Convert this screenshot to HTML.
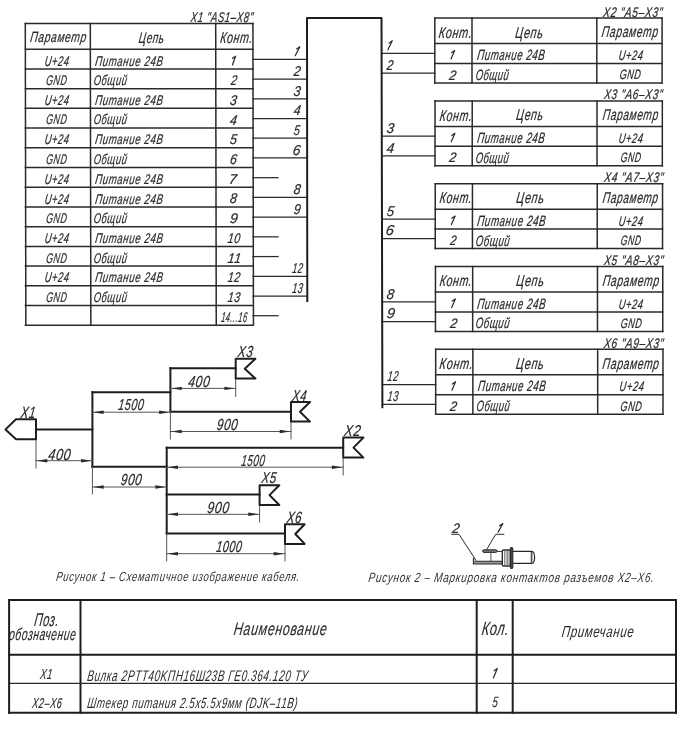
<!DOCTYPE html><html><head><meta charset="utf-8"><style>html,body{margin:0;padding:0;background:#fff;width:690px;height:734px;overflow:hidden}svg{display:block}text{font-family:"Liberation Sans",sans-serif;font-style:italic;fill:#2a2a2a;-webkit-font-smoothing:antialiased;text-rendering:geometricPrecision;stroke:#2a2a2a;stroke-width:0.22px;letter-spacing:0.9px}svg{will-change:transform}</style></head><body>
<svg width="690" height="734" viewBox="0 0 690 734">
<g stroke="#2a2a2a" stroke-linecap="square" fill="none">
<line x1="25.30" y1="23.50" x2="25.85" y2="325.28" stroke-width="1.50" stroke="#2a2a2a"/>
<line x1="90.30" y1="23.50" x2="90.85" y2="325.28" stroke-width="1.50" stroke="#2a2a2a"/>
<line x1="215.70" y1="23.50" x2="216.25" y2="325.28" stroke-width="1.50" stroke="#2a2a2a"/>
<line x1="252.90" y1="23.50" x2="253.45" y2="325.28" stroke-width="1.50" stroke="#2a2a2a"/>
<line x1="25.40" y1="23.50" x2="253.00" y2="23.50" stroke-width="1.50" stroke="#2a2a2a"/>
<line x1="25.40" y1="49.20" x2="253.00" y2="49.20" stroke-width="1.50" stroke="#2a2a2a"/>
<line x1="25.40" y1="68.92" x2="253.00" y2="68.92" stroke-width="1.50" stroke="#2a2a2a"/>
<line x1="25.40" y1="88.64" x2="253.00" y2="88.64" stroke-width="1.50" stroke="#2a2a2a"/>
<line x1="25.40" y1="108.36" x2="253.00" y2="108.36" stroke-width="1.50" stroke="#2a2a2a"/>
<line x1="25.40" y1="128.08" x2="253.00" y2="128.08" stroke-width="1.50" stroke="#2a2a2a"/>
<line x1="25.40" y1="147.80" x2="253.00" y2="147.80" stroke-width="1.50" stroke="#2a2a2a"/>
<line x1="25.40" y1="167.52" x2="253.00" y2="167.52" stroke-width="1.50" stroke="#2a2a2a"/>
<line x1="25.40" y1="187.24" x2="253.00" y2="187.24" stroke-width="1.50" stroke="#2a2a2a"/>
<line x1="25.40" y1="206.96" x2="253.00" y2="206.96" stroke-width="1.50" stroke="#2a2a2a"/>
<line x1="25.40" y1="226.68" x2="253.00" y2="226.68" stroke-width="1.50" stroke="#2a2a2a"/>
<line x1="25.40" y1="246.40" x2="253.00" y2="246.40" stroke-width="1.50" stroke="#2a2a2a"/>
<line x1="25.40" y1="266.12" x2="253.00" y2="266.12" stroke-width="1.50" stroke="#2a2a2a"/>
<line x1="25.40" y1="285.84" x2="253.00" y2="285.84" stroke-width="1.50" stroke="#2a2a2a"/>
<line x1="25.40" y1="305.56" x2="253.00" y2="305.56" stroke-width="1.50" stroke="#2a2a2a"/>
<line x1="25.40" y1="325.28" x2="253.00" y2="325.28" stroke-width="1.50" stroke="#2a2a2a"/>
<line x1="253.00" y1="59.36" x2="307.00" y2="59.36" stroke-width="1.25" stroke="#2a2a2a"/>
<line x1="253.00" y1="79.08" x2="307.00" y2="79.08" stroke-width="1.25" stroke="#2a2a2a"/>
<line x1="253.00" y1="98.80" x2="307.00" y2="98.80" stroke-width="1.25" stroke="#2a2a2a"/>
<line x1="253.00" y1="118.52" x2="307.00" y2="118.52" stroke-width="1.25" stroke="#2a2a2a"/>
<line x1="253.00" y1="138.24" x2="307.00" y2="138.24" stroke-width="1.25" stroke="#2a2a2a"/>
<line x1="253.00" y1="157.96" x2="307.00" y2="157.96" stroke-width="1.25" stroke="#2a2a2a"/>
<line x1="253.00" y1="177.68" x2="278.00" y2="177.68" stroke-width="1.25" stroke="#2a2a2a"/>
<line x1="253.00" y1="197.40" x2="307.00" y2="197.40" stroke-width="1.25" stroke="#2a2a2a"/>
<line x1="253.00" y1="217.12" x2="307.00" y2="217.12" stroke-width="1.25" stroke="#2a2a2a"/>
<line x1="253.00" y1="236.84" x2="278.00" y2="236.84" stroke-width="1.25" stroke="#2a2a2a"/>
<line x1="253.00" y1="256.56" x2="278.00" y2="256.56" stroke-width="1.25" stroke="#2a2a2a"/>
<line x1="253.00" y1="276.28" x2="307.00" y2="276.28" stroke-width="1.25" stroke="#2a2a2a"/>
<line x1="253.00" y1="296.00" x2="307.00" y2="296.00" stroke-width="1.25" stroke="#2a2a2a"/>
<line x1="253.00" y1="315.72" x2="278.00" y2="315.72" stroke-width="1.25" stroke="#2a2a2a"/>
<line x1="434.80" y1="18.10" x2="434.80" y2="83.00" stroke-width="1.50" stroke="#2a2a2a"/>
<line x1="472.00" y1="18.10" x2="472.00" y2="83.00" stroke-width="1.50" stroke="#2a2a2a"/>
<line x1="596.80" y1="18.10" x2="596.80" y2="83.00" stroke-width="1.50" stroke="#2a2a2a"/>
<line x1="662.10" y1="18.10" x2="662.10" y2="83.00" stroke-width="1.50" stroke="#2a2a2a"/>
<line x1="434.80" y1="18.10" x2="662.10" y2="18.10" stroke-width="1.50" stroke="#2a2a2a"/>
<line x1="434.80" y1="43.60" x2="662.10" y2="43.60" stroke-width="1.50" stroke="#2a2a2a"/>
<line x1="434.80" y1="63.50" x2="662.10" y2="63.50" stroke-width="1.50" stroke="#2a2a2a"/>
<line x1="434.80" y1="83.00" x2="662.10" y2="83.00" stroke-width="1.50" stroke="#2a2a2a"/>
<line x1="381.58" y1="53.40" x2="434.80" y2="53.40" stroke-width="1.25" stroke="#2a2a2a"/>
<line x1="381.58" y1="73.10" x2="434.80" y2="73.10" stroke-width="1.25" stroke="#2a2a2a"/>
<line x1="435.02" y1="100.90" x2="435.02" y2="165.80" stroke-width="1.50" stroke="#2a2a2a"/>
<line x1="472.22" y1="100.90" x2="472.22" y2="165.80" stroke-width="1.50" stroke="#2a2a2a"/>
<line x1="597.02" y1="100.90" x2="597.02" y2="165.80" stroke-width="1.50" stroke="#2a2a2a"/>
<line x1="662.32" y1="100.90" x2="662.32" y2="165.80" stroke-width="1.50" stroke="#2a2a2a"/>
<line x1="435.02" y1="100.90" x2="662.32" y2="100.90" stroke-width="1.50" stroke="#2a2a2a"/>
<line x1="435.02" y1="126.40" x2="662.32" y2="126.40" stroke-width="1.50" stroke="#2a2a2a"/>
<line x1="435.02" y1="146.30" x2="662.32" y2="146.30" stroke-width="1.50" stroke="#2a2a2a"/>
<line x1="435.02" y1="165.80" x2="662.32" y2="165.80" stroke-width="1.50" stroke="#2a2a2a"/>
<line x1="381.77" y1="136.20" x2="435.02" y2="136.20" stroke-width="1.25" stroke="#2a2a2a"/>
<line x1="381.77" y1="155.90" x2="435.02" y2="155.90" stroke-width="1.25" stroke="#2a2a2a"/>
<line x1="435.24" y1="183.70" x2="435.24" y2="248.60" stroke-width="1.50" stroke="#2a2a2a"/>
<line x1="472.44" y1="183.70" x2="472.44" y2="248.60" stroke-width="1.50" stroke="#2a2a2a"/>
<line x1="597.24" y1="183.70" x2="597.24" y2="248.60" stroke-width="1.50" stroke="#2a2a2a"/>
<line x1="662.54" y1="183.70" x2="662.54" y2="248.60" stroke-width="1.50" stroke="#2a2a2a"/>
<line x1="435.24" y1="183.70" x2="662.54" y2="183.70" stroke-width="1.50" stroke="#2a2a2a"/>
<line x1="435.24" y1="209.20" x2="662.54" y2="209.20" stroke-width="1.50" stroke="#2a2a2a"/>
<line x1="435.24" y1="229.10" x2="662.54" y2="229.10" stroke-width="1.50" stroke="#2a2a2a"/>
<line x1="435.24" y1="248.60" x2="662.54" y2="248.60" stroke-width="1.50" stroke="#2a2a2a"/>
<line x1="381.96" y1="219.00" x2="435.24" y2="219.00" stroke-width="1.25" stroke="#2a2a2a"/>
<line x1="381.96" y1="238.70" x2="435.24" y2="238.70" stroke-width="1.25" stroke="#2a2a2a"/>
<line x1="435.46" y1="266.50" x2="435.46" y2="331.40" stroke-width="1.50" stroke="#2a2a2a"/>
<line x1="472.66" y1="266.50" x2="472.66" y2="331.40" stroke-width="1.50" stroke="#2a2a2a"/>
<line x1="597.46" y1="266.50" x2="597.46" y2="331.40" stroke-width="1.50" stroke="#2a2a2a"/>
<line x1="662.76" y1="266.50" x2="662.76" y2="331.40" stroke-width="1.50" stroke="#2a2a2a"/>
<line x1="435.46" y1="266.50" x2="662.76" y2="266.50" stroke-width="1.50" stroke="#2a2a2a"/>
<line x1="435.46" y1="292.00" x2="662.76" y2="292.00" stroke-width="1.50" stroke="#2a2a2a"/>
<line x1="435.46" y1="311.90" x2="662.76" y2="311.90" stroke-width="1.50" stroke="#2a2a2a"/>
<line x1="435.46" y1="331.40" x2="662.76" y2="331.40" stroke-width="1.50" stroke="#2a2a2a"/>
<line x1="382.15" y1="301.80" x2="435.46" y2="301.80" stroke-width="1.25" stroke="#2a2a2a"/>
<line x1="382.15" y1="321.50" x2="435.46" y2="321.50" stroke-width="1.25" stroke="#2a2a2a"/>
<line x1="435.68" y1="349.30" x2="435.68" y2="414.20" stroke-width="1.50" stroke="#2a2a2a"/>
<line x1="472.88" y1="349.30" x2="472.88" y2="414.20" stroke-width="1.50" stroke="#2a2a2a"/>
<line x1="597.68" y1="349.30" x2="597.68" y2="414.20" stroke-width="1.50" stroke="#2a2a2a"/>
<line x1="662.98" y1="349.30" x2="662.98" y2="414.20" stroke-width="1.50" stroke="#2a2a2a"/>
<line x1="435.68" y1="349.30" x2="662.98" y2="349.30" stroke-width="1.50" stroke="#2a2a2a"/>
<line x1="435.68" y1="374.80" x2="662.98" y2="374.80" stroke-width="1.50" stroke="#2a2a2a"/>
<line x1="435.68" y1="394.70" x2="662.98" y2="394.70" stroke-width="1.50" stroke="#2a2a2a"/>
<line x1="435.68" y1="414.20" x2="662.98" y2="414.20" stroke-width="1.50" stroke="#2a2a2a"/>
<line x1="382.35" y1="384.60" x2="435.68" y2="384.60" stroke-width="1.25" stroke="#2a2a2a"/>
<line x1="382.35" y1="404.30" x2="435.68" y2="404.30" stroke-width="1.25" stroke="#2a2a2a"/>
<line x1="36.00" y1="429.40" x2="92.40" y2="429.40" stroke-width="2.00" stroke="#1e1e1e"/>
<line x1="92.40" y1="392.20" x2="92.40" y2="466.80" stroke-width="2.00" stroke="#1e1e1e"/>
<line x1="92.40" y1="392.20" x2="170.40" y2="392.20" stroke-width="2.00" stroke="#1e1e1e"/>
<line x1="170.40" y1="368.20" x2="170.40" y2="411.80" stroke-width="2.00" stroke="#1e1e1e"/>
<line x1="170.40" y1="368.20" x2="235.70" y2="368.20" stroke-width="2.00" stroke="#1e1e1e"/>
<line x1="170.40" y1="411.80" x2="291.00" y2="411.80" stroke-width="2.00" stroke="#1e1e1e"/>
<line x1="92.40" y1="466.80" x2="166.70" y2="466.80" stroke-width="2.00" stroke="#1e1e1e"/>
<line x1="166.70" y1="447.70" x2="166.70" y2="533.50" stroke-width="2.00" stroke="#1e1e1e"/>
<line x1="166.70" y1="447.70" x2="343.20" y2="447.70" stroke-width="2.00" stroke="#1e1e1e"/>
<line x1="166.70" y1="494.60" x2="259.60" y2="494.60" stroke-width="2.00" stroke="#1e1e1e"/>
<line x1="166.70" y1="533.50" x2="285.00" y2="533.50" stroke-width="2.00" stroke="#1e1e1e"/>
<line x1="36.00" y1="439.30" x2="36.00" y2="468.00" stroke-width="1.00" stroke="#555"/>
<line x1="36.00" y1="460.70" x2="92.40" y2="460.70" stroke-width="1.00" stroke="#555"/>
<line x1="92.40" y1="412.20" x2="170.40" y2="412.20" stroke-width="1.00" stroke="#555"/>
<line x1="92.40" y1="466.80" x2="92.40" y2="494.00" stroke-width="1.00" stroke="#555"/>
<line x1="92.40" y1="487.00" x2="166.70" y2="487.00" stroke-width="1.00" stroke="#555"/>
<line x1="235.70" y1="378.50" x2="235.70" y2="396.50" stroke-width="1.00" stroke="#555"/>
<line x1="170.40" y1="388.40" x2="235.70" y2="388.40" stroke-width="1.00" stroke="#555"/>
<line x1="170.40" y1="411.80" x2="170.40" y2="439.00" stroke-width="1.00" stroke="#555"/>
<line x1="291.00" y1="421.60" x2="291.00" y2="439.00" stroke-width="1.00" stroke="#555"/>
<line x1="170.40" y1="431.50" x2="291.00" y2="431.50" stroke-width="1.00" stroke="#555"/>
<line x1="343.20" y1="457.60" x2="343.20" y2="475.00" stroke-width="1.00" stroke="#555"/>
<line x1="166.70" y1="467.20" x2="343.20" y2="467.20" stroke-width="1.00" stroke="#555"/>
<line x1="259.60" y1="505.00" x2="259.60" y2="522.00" stroke-width="1.00" stroke="#555"/>
<line x1="166.70" y1="514.30" x2="259.60" y2="514.30" stroke-width="1.00" stroke="#555"/>
<line x1="166.70" y1="533.50" x2="166.70" y2="561.00" stroke-width="1.00" stroke="#555"/>
<line x1="285.00" y1="543.90" x2="285.00" y2="561.00" stroke-width="1.00" stroke="#555"/>
<line x1="166.70" y1="553.70" x2="285.00" y2="553.70" stroke-width="1.00" stroke="#555"/>
<line x1="9.10" y1="600.00" x2="9.10" y2="712.80" stroke-width="2.00" stroke="#1e1e1e"/>
<line x1="80.50" y1="600.00" x2="80.50" y2="712.80" stroke-width="2.00" stroke="#1e1e1e"/>
<line x1="476.70" y1="600.00" x2="476.70" y2="712.80" stroke-width="2.00" stroke="#1e1e1e"/>
<line x1="512.70" y1="600.00" x2="512.70" y2="712.80" stroke-width="2.00" stroke="#1e1e1e"/>
<line x1="676.00" y1="600.00" x2="676.00" y2="712.80" stroke-width="2.00" stroke="#1e1e1e"/>
<line x1="9.10" y1="600.00" x2="676.00" y2="600.00" stroke-width="2.00" stroke="#1e1e1e"/>
<line x1="9.10" y1="654.80" x2="676.00" y2="654.80" stroke-width="2.00" stroke="#1e1e1e"/>
<line x1="9.10" y1="683.40" x2="676.00" y2="683.40" stroke-width="1.30" stroke="#2a2a2a"/>
<line x1="9.10" y1="712.80" x2="676.00" y2="712.80" stroke-width="2.00" stroke="#1e1e1e"/>
<polyline points="307.30,302.00 307.00,17.90 381.50,17.90 382.40,408.30" stroke-width="2.00" stroke="#1e1e1e" stroke-linejoin="round" stroke-linecap="butt"/>
<polygon points="36.00,419.30 16.00,419.30 5.50,429.40 16.00,439.30 36.00,439.30" stroke-width="2.00" stroke="#1e1e1e" stroke-linejoin="round" stroke-linecap="butt"/>
<polygon points="235.70,358.80 255.40,358.80 244.80,368.65 255.40,378.50 235.70,378.50" stroke-width="2.00" stroke="#1e1e1e" stroke-linejoin="round" stroke-linecap="butt"/>
<polygon points="291.00,402.00 310.00,402.00 300.00,411.80 310.00,421.60 291.00,421.60" stroke-width="2.00" stroke="#1e1e1e" stroke-linejoin="round" stroke-linecap="butt"/>
<polygon points="343.20,437.60 363.40,437.60 353.50,447.60 363.40,457.60 343.20,457.60" stroke-width="2.00" stroke="#1e1e1e" stroke-linejoin="round" stroke-linecap="butt"/>
<polygon points="259.60,485.30 279.30,485.30 269.50,495.15 279.30,505.00 259.60,505.00" stroke-width="2.00" stroke="#1e1e1e" stroke-linejoin="round" stroke-linecap="butt"/>
<polygon points="285.00,524.20 304.70,524.20 295.30,534.05 304.70,543.90 285.00,543.90" stroke-width="2.00" stroke="#1e1e1e" stroke-linejoin="round" stroke-linecap="butt"/>
</g>
<g fill="#2a2a2a" stroke="none">
<path d="M36.80 460.70l10.5 -1.7v3.4z"/>
<path d="M91.60 460.70l-10.5 -1.7v3.4z"/>
<path d="M93.20 412.20l10.5 -1.7v3.4z"/>
<path d="M169.60 412.20l-10.5 -1.7v3.4z"/>
<path d="M93.20 487.00l10.5 -1.7v3.4z"/>
<path d="M165.90 487.00l-10.5 -1.7v3.4z"/>
<path d="M171.20 388.40l10.5 -1.7v3.4z"/>
<path d="M234.90 388.40l-10.5 -1.7v3.4z"/>
<path d="M171.20 431.50l10.5 -1.7v3.4z"/>
<path d="M290.20 431.50l-10.5 -1.7v3.4z"/>
<path d="M167.50 467.20l10.5 -1.7v3.4z"/>
<path d="M342.40 467.20l-10.5 -1.7v3.4z"/>
<path d="M167.50 514.30l10.5 -1.7v3.4z"/>
<path d="M258.80 514.30l-10.5 -1.7v3.4z"/>
<path d="M167.50 553.70l10.5 -1.7v3.4z"/>
<path d="M284.20 553.70l-10.5 -1.7v3.4z"/>
</g>
<g stroke="#2a2a2a" fill="none" stroke-width="1">
<path d="M451.3 534.3H459L475.3 559.3"/>
<path d="M504.3 534.3H495.7L486.2 550.3"/>
<rect x="482.6" y="549.8" width="14.5" height="2.6" rx="1.3" fill="#777" stroke-width="1"/>
<path d="M497.1 551.4H502.3"/>
<path d="M490.9 552.4V561.2" stroke="#555"/>
<path d="M473.4 558V564H502.3V561.2H474.8" fill="#999" stroke-width="1.1"/>
<path d="M474.2 558.3L476.2 560.6" stroke-width="0.9"/>
<rect x="502.3" y="550" width="8.2" height="16" rx="1.3" stroke-width="1.3"/>
<path d="M504.6 551V565M506.1 551V565M507.6 551V565M509.0 551V565" stroke="#666" stroke-width="0.8"/>
<rect x="510.3" y="547.6" width="2.5" height="20.9" rx="1.2" fill="#444" stroke-width="1.1"/>
<path d="M512.8 551.4H531.6Q534.6 551.4 534.6 557.4Q534.6 563.4 531.6 563.4H512.8" stroke-width="1.2"/>
<path d="M531.6 552V562.8" stroke-width="1.8" stroke="#555"/>
</g>

<text transform="translate(190.20 21.80) skewX(-7.5)" font-size="14.10" textLength="62.96" lengthAdjust="spacingAndGlyphs">X1 &quot;AS1–X8&quot;</text>
<text transform="translate(29.70 41.80) skewX(-7.5)" font-size="14.83" textLength="56.61" lengthAdjust="spacingAndGlyphs">Параметр</text>
<text transform="translate(138.20 42.50) skewX(-7.5)" font-size="15.26" textLength="25.97" lengthAdjust="spacingAndGlyphs">Цепь</text>
<text transform="translate(219.70 43.00) skewX(-7.5)" font-size="15.99" textLength="32.74" lengthAdjust="spacingAndGlyphs">Конт.</text>
<text transform="translate(44.20 65.50) skewX(-7.5)" font-size="14.10" textLength="24.78" lengthAdjust="spacingAndGlyphs">U+24</text>
<text transform="translate(94.70 65.50) skewX(-7.5)" font-size="14.10" textLength="68.32" lengthAdjust="spacingAndGlyphs">Питание 24В</text>
<text transform="translate(45.70 85.02) skewX(-7.5)" font-size="14.10" textLength="21.12" lengthAdjust="spacingAndGlyphs">GND</text>
<text transform="translate(93.20 85.02) skewX(-7.5)" font-size="14.10" textLength="33.72" lengthAdjust="spacingAndGlyphs">Общий</text>
<text transform="translate(44.20 104.94) skewX(-7.5)" font-size="14.10" textLength="24.78" lengthAdjust="spacingAndGlyphs">U+24</text>
<text transform="translate(94.70 104.94) skewX(-7.5)" font-size="14.10" textLength="68.32" lengthAdjust="spacingAndGlyphs">Питание 24В</text>
<text transform="translate(45.70 124.46) skewX(-7.5)" font-size="14.10" textLength="21.12" lengthAdjust="spacingAndGlyphs">GND</text>
<text transform="translate(93.20 124.46) skewX(-7.5)" font-size="14.10" textLength="33.72" lengthAdjust="spacingAndGlyphs">Общий</text>
<text transform="translate(44.20 144.38) skewX(-7.5)" font-size="14.10" textLength="24.78" lengthAdjust="spacingAndGlyphs">U+24</text>
<text transform="translate(94.70 144.38) skewX(-7.5)" font-size="14.10" textLength="68.32" lengthAdjust="spacingAndGlyphs">Питание 24В</text>
<text transform="translate(45.70 163.90) skewX(-7.5)" font-size="14.10" textLength="21.12" lengthAdjust="spacingAndGlyphs">GND</text>
<text transform="translate(93.20 163.90) skewX(-7.5)" font-size="14.10" textLength="33.72" lengthAdjust="spacingAndGlyphs">Общий</text>
<text transform="translate(44.20 183.82) skewX(-7.5)" font-size="14.10" textLength="24.78" lengthAdjust="spacingAndGlyphs">U+24</text>
<text transform="translate(94.70 183.82) skewX(-7.5)" font-size="14.10" textLength="68.32" lengthAdjust="spacingAndGlyphs">Питание 24В</text>
<text transform="translate(44.20 203.54) skewX(-7.5)" font-size="14.10" textLength="24.78" lengthAdjust="spacingAndGlyphs">U+24</text>
<text transform="translate(94.70 203.54) skewX(-7.5)" font-size="14.10" textLength="68.32" lengthAdjust="spacingAndGlyphs">Питание 24В</text>
<text transform="translate(45.70 223.06) skewX(-7.5)" font-size="14.10" textLength="21.12" lengthAdjust="spacingAndGlyphs">GND</text>
<text transform="translate(93.20 223.06) skewX(-7.5)" font-size="14.10" textLength="33.72" lengthAdjust="spacingAndGlyphs">Общий</text>
<text transform="translate(44.20 242.98) skewX(-7.5)" font-size="14.10" textLength="24.78" lengthAdjust="spacingAndGlyphs">U+24</text>
<text transform="translate(94.70 242.98) skewX(-7.5)" font-size="14.10" textLength="68.32" lengthAdjust="spacingAndGlyphs">Питание 24В</text>
<text transform="translate(45.70 262.50) skewX(-7.5)" font-size="14.10" textLength="21.12" lengthAdjust="spacingAndGlyphs">GND</text>
<text transform="translate(93.20 262.50) skewX(-7.5)" font-size="14.10" textLength="33.72" lengthAdjust="spacingAndGlyphs">Общий</text>
<text transform="translate(44.20 282.42) skewX(-7.5)" font-size="14.10" textLength="24.78" lengthAdjust="spacingAndGlyphs">U+24</text>
<text transform="translate(94.70 282.42) skewX(-7.5)" font-size="14.10" textLength="68.32" lengthAdjust="spacingAndGlyphs">Питание 24В</text>
<text transform="translate(45.70 301.94) skewX(-7.5)" font-size="14.10" textLength="21.12" lengthAdjust="spacingAndGlyphs">GND</text>
<text transform="translate(93.20 301.94) skewX(-7.5)" font-size="14.10" textLength="33.72" lengthAdjust="spacingAndGlyphs">Общий</text>
<path d="M232.45 65.00L235.55 56.20L232.35 58.40" fill="none" stroke="#2a2a2a" stroke-width="1.2" stroke-linecap="round" stroke-linejoin="round"/>
<text transform="translate(230.45 85.12) skewX(-7.5)" font-size="14.10" textLength="6.84" lengthAdjust="spacingAndGlyphs">2</text>
<text transform="translate(229.45 104.84) skewX(-7.5)" font-size="14.10" textLength="7.74" lengthAdjust="spacingAndGlyphs">3</text>
<text transform="translate(229.45 124.56) skewX(-7.5)" font-size="14.10" textLength="7.74" lengthAdjust="spacingAndGlyphs">4</text>
<text transform="translate(229.45 144.28) skewX(-7.5)" font-size="14.10" textLength="7.74" lengthAdjust="spacingAndGlyphs">5</text>
<text transform="translate(229.45 164.00) skewX(-7.5)" font-size="14.10" textLength="7.74" lengthAdjust="spacingAndGlyphs">6</text>
<text transform="translate(228.45 183.72) skewX(-7.5)" font-size="14.10" textLength="8.64" lengthAdjust="spacingAndGlyphs">7</text>
<text transform="translate(229.45 203.44) skewX(-7.5)" font-size="14.10" textLength="7.74" lengthAdjust="spacingAndGlyphs">8</text>
<text transform="translate(229.45 223.16) skewX(-7.5)" font-size="14.10" textLength="8.64" lengthAdjust="spacingAndGlyphs">9</text>
<text transform="translate(227.20 242.88) skewX(-7.5)" font-size="14.10" textLength="13.24" lengthAdjust="spacingAndGlyphs">10</text>
<text transform="translate(227.20 262.60) skewX(-7.5)" font-size="14.10" textLength="14.14" lengthAdjust="spacingAndGlyphs">11</text>
<text transform="translate(227.20 282.32) skewX(-7.5)" font-size="14.10" textLength="13.24" lengthAdjust="spacingAndGlyphs">12</text>
<text transform="translate(227.20 302.04) skewX(-7.5)" font-size="14.10" textLength="13.24" lengthAdjust="spacingAndGlyphs">13</text>
<text transform="translate(220.70 321.76) skewX(-7.5)" font-size="14.10" textLength="26.34" lengthAdjust="spacingAndGlyphs">14...16</text>
<path d="M295.20 55.66L299.80 46.76L296.60 48.96" fill="none" stroke="#2a2a2a" stroke-width="1.2" stroke-linecap="round" stroke-linejoin="round"/>
<text transform="translate(293.20 75.78) skewX(-7.5)" font-size="14.24" textLength="7.72" lengthAdjust="spacingAndGlyphs">2</text>
<text transform="translate(293.20 95.50) skewX(-7.5)" font-size="14.24" textLength="7.72" lengthAdjust="spacingAndGlyphs">3</text>
<text transform="translate(293.20 115.22) skewX(-7.5)" font-size="14.24" textLength="7.72" lengthAdjust="spacingAndGlyphs">4</text>
<text transform="translate(293.20 134.94) skewX(-7.5)" font-size="14.24" textLength="6.82" lengthAdjust="spacingAndGlyphs">5</text>
<text transform="translate(292.20 154.66) skewX(-7.5)" font-size="14.24" textLength="8.62" lengthAdjust="spacingAndGlyphs">6</text>
<text transform="translate(293.20 194.10) skewX(-7.5)" font-size="14.24" textLength="7.72" lengthAdjust="spacingAndGlyphs">8</text>
<text transform="translate(293.20 213.82) skewX(-7.5)" font-size="14.24" textLength="7.72" lengthAdjust="spacingAndGlyphs">9</text>
<text transform="translate(291.70 272.98) skewX(-7.5)" font-size="14.24" textLength="11.22" lengthAdjust="spacingAndGlyphs">12</text>
<text transform="translate(291.70 292.70) skewX(-7.5)" font-size="14.24" textLength="11.22" lengthAdjust="spacingAndGlyphs">13</text>
<text transform="translate(602.70 16.50) skewX(-7.5)" font-size="13.95" textLength="59.92" lengthAdjust="spacingAndGlyphs">X2 &quot;A5–X3&quot;</text>
<text transform="translate(438.20 37.70) skewX(-7.5)" font-size="15.70" textLength="33.68" lengthAdjust="spacingAndGlyphs">Конт.</text>
<text transform="translate(514.70 37.50) skewX(-7.5)" font-size="15.70" textLength="28.34" lengthAdjust="spacingAndGlyphs">Цепь</text>
<text transform="translate(601.20 37.40) skewX(-7.5)" font-size="15.70" textLength="56.90" lengthAdjust="spacingAndGlyphs">Параметр</text>
<path d="M451.00 59.00L454.70 50.50L451.50 52.70" fill="none" stroke="#2a2a2a" stroke-width="1.2" stroke-linecap="round" stroke-linejoin="round"/>
<text transform="translate(476.70 60.10) skewX(-7.5)" font-size="14.97" textLength="68.19" lengthAdjust="spacingAndGlyphs">Питание 24В</text>
<text transform="translate(618.20 60.10) skewX(-7.5)" font-size="13.66" textLength="24.76" lengthAdjust="spacingAndGlyphs">U+24</text>
<text transform="translate(448.70 79.60) skewX(-7.5)" font-size="13.66" textLength="7.82" lengthAdjust="spacingAndGlyphs">2</text>
<text transform="translate(475.20 79.90) skewX(-7.5)" font-size="14.97" textLength="33.65" lengthAdjust="spacingAndGlyphs">Общий</text>
<text transform="translate(619.20 79.40) skewX(-7.5)" font-size="13.66" textLength="21.68" lengthAdjust="spacingAndGlyphs">GND</text>
<path d="M387.90 49.70L392.30 40.80L389.10 43.00" fill="none" stroke="#2a2a2a" stroke-width="1.2" stroke-linecap="round" stroke-linejoin="round"/>
<text transform="translate(386.20 69.80) skewX(-7.5)" font-size="14.24" textLength="7.32" lengthAdjust="spacingAndGlyphs">2</text>
<text transform="translate(603.68 99.30) skewX(-7.5)" font-size="13.95" textLength="59.02" lengthAdjust="spacingAndGlyphs">X3 &quot;A6–X3&quot;</text>
<text transform="translate(439.18 120.50) skewX(-7.5)" font-size="15.70" textLength="32.78" lengthAdjust="spacingAndGlyphs">Конт.</text>
<text transform="translate(515.68 120.30) skewX(-7.5)" font-size="15.70" textLength="27.44" lengthAdjust="spacingAndGlyphs">Цепь</text>
<text transform="translate(602.18 120.20) skewX(-7.5)" font-size="15.70" textLength="56.00" lengthAdjust="spacingAndGlyphs">Параметр</text>
<path d="M451.22 141.80L454.92 133.30L451.72 135.50" fill="none" stroke="#2a2a2a" stroke-width="1.2" stroke-linecap="round" stroke-linejoin="round"/>
<text transform="translate(476.68 142.90) skewX(-7.5)" font-size="14.97" textLength="68.19" lengthAdjust="spacingAndGlyphs">Питание 24В</text>
<text transform="translate(618.18 142.90) skewX(-7.5)" font-size="13.66" textLength="24.76" lengthAdjust="spacingAndGlyphs">U+24</text>
<text transform="translate(448.68 162.40) skewX(-7.5)" font-size="13.66" textLength="7.82" lengthAdjust="spacingAndGlyphs">2</text>
<text transform="translate(475.18 162.70) skewX(-7.5)" font-size="14.97" textLength="33.65" lengthAdjust="spacingAndGlyphs">Общий</text>
<text transform="translate(620.18 162.20) skewX(-7.5)" font-size="13.66" textLength="20.78" lengthAdjust="spacingAndGlyphs">GND</text>
<text transform="translate(386.18 132.90) skewX(-7.5)" font-size="14.24" textLength="8.22" lengthAdjust="spacingAndGlyphs">3</text>
<text transform="translate(386.18 152.60) skewX(-7.5)" font-size="14.24" textLength="8.22" lengthAdjust="spacingAndGlyphs">4</text>
<text transform="translate(603.66 182.10) skewX(-7.5)" font-size="13.95" textLength="59.92" lengthAdjust="spacingAndGlyphs">X4 &quot;A7–X3&quot;</text>
<text transform="translate(439.16 203.30) skewX(-7.5)" font-size="15.70" textLength="32.78" lengthAdjust="spacingAndGlyphs">Конт.</text>
<text transform="translate(515.66 203.10) skewX(-7.5)" font-size="15.70" textLength="28.34" lengthAdjust="spacingAndGlyphs">Цепь</text>
<text transform="translate(602.16 203.00) skewX(-7.5)" font-size="15.70" textLength="56.00" lengthAdjust="spacingAndGlyphs">Параметр</text>
<path d="M451.44 224.60L455.14 216.10L451.94 218.30" fill="none" stroke="#2a2a2a" stroke-width="1.2" stroke-linecap="round" stroke-linejoin="round"/>
<text transform="translate(476.66 225.70) skewX(-7.5)" font-size="14.97" textLength="69.09" lengthAdjust="spacingAndGlyphs">Питание 24В</text>
<text transform="translate(618.16 225.70) skewX(-7.5)" font-size="13.66" textLength="24.76" lengthAdjust="spacingAndGlyphs">U+24</text>
<text transform="translate(449.66 245.20) skewX(-7.5)" font-size="13.66" textLength="6.92" lengthAdjust="spacingAndGlyphs">2</text>
<text transform="translate(475.16 245.50) skewX(-7.5)" font-size="14.97" textLength="34.55" lengthAdjust="spacingAndGlyphs">Общий</text>
<text transform="translate(620.16 245.00) skewX(-7.5)" font-size="13.66" textLength="20.78" lengthAdjust="spacingAndGlyphs">GND</text>
<text transform="translate(386.16 215.70) skewX(-7.5)" font-size="14.24" textLength="8.22" lengthAdjust="spacingAndGlyphs">5</text>
<text transform="translate(385.16 235.40) skewX(-7.5)" font-size="14.24" textLength="9.12" lengthAdjust="spacingAndGlyphs">6</text>
<text transform="translate(603.64 264.90) skewX(-7.5)" font-size="13.95" textLength="59.92" lengthAdjust="spacingAndGlyphs">X5 &quot;A8–X3&quot;</text>
<text transform="translate(439.14 286.10) skewX(-7.5)" font-size="15.70" textLength="32.78" lengthAdjust="spacingAndGlyphs">Конт.</text>
<text transform="translate(515.64 285.90) skewX(-7.5)" font-size="15.70" textLength="28.34" lengthAdjust="spacingAndGlyphs">Цепь</text>
<text transform="translate(602.14 285.80) skewX(-7.5)" font-size="15.70" textLength="56.90" lengthAdjust="spacingAndGlyphs">Параметр</text>
<path d="M451.66 307.40L455.36 298.90L452.16 301.10" fill="none" stroke="#2a2a2a" stroke-width="1.2" stroke-linecap="round" stroke-linejoin="round"/>
<text transform="translate(476.64 308.50) skewX(-7.5)" font-size="14.97" textLength="69.09" lengthAdjust="spacingAndGlyphs">Питание 24В</text>
<text transform="translate(618.14 308.50) skewX(-7.5)" font-size="13.66" textLength="24.76" lengthAdjust="spacingAndGlyphs">U+24</text>
<text transform="translate(449.64 328.00) skewX(-7.5)" font-size="13.66" textLength="7.82" lengthAdjust="spacingAndGlyphs">2</text>
<text transform="translate(475.14 328.30) skewX(-7.5)" font-size="14.97" textLength="34.55" lengthAdjust="spacingAndGlyphs">Общий</text>
<text transform="translate(620.14 327.80) skewX(-7.5)" font-size="13.66" textLength="21.68" lengthAdjust="spacingAndGlyphs">GND</text>
<text transform="translate(386.14 298.50) skewX(-7.5)" font-size="14.24" textLength="8.22" lengthAdjust="spacingAndGlyphs">8</text>
<text transform="translate(386.14 318.20) skewX(-7.5)" font-size="14.24" textLength="9.12" lengthAdjust="spacingAndGlyphs">9</text>
<text transform="translate(603.62 347.70) skewX(-7.5)" font-size="13.95" textLength="59.92" lengthAdjust="spacingAndGlyphs">X6 &quot;A9–X3&quot;</text>
<text transform="translate(439.12 368.90) skewX(-7.5)" font-size="15.70" textLength="33.68" lengthAdjust="spacingAndGlyphs">Конт.</text>
<text transform="translate(515.62 368.70) skewX(-7.5)" font-size="15.70" textLength="28.34" lengthAdjust="spacingAndGlyphs">Цепь</text>
<text transform="translate(602.12 368.60) skewX(-7.5)" font-size="15.70" textLength="56.90" lengthAdjust="spacingAndGlyphs">Параметр</text>
<path d="M451.88 390.20L455.58 381.70L452.38 383.90" fill="none" stroke="#2a2a2a" stroke-width="1.2" stroke-linecap="round" stroke-linejoin="round"/>
<text transform="translate(477.62 391.30) skewX(-7.5)" font-size="14.97" textLength="68.19" lengthAdjust="spacingAndGlyphs">Питание 24В</text>
<text transform="translate(619.12 391.30) skewX(-7.5)" font-size="13.66" textLength="24.76" lengthAdjust="spacingAndGlyphs">U+24</text>
<text transform="translate(449.62 410.80) skewX(-7.5)" font-size="13.66" textLength="7.82" lengthAdjust="spacingAndGlyphs">2</text>
<text transform="translate(476.12 411.10) skewX(-7.5)" font-size="14.97" textLength="33.65" lengthAdjust="spacingAndGlyphs">Общий</text>
<text transform="translate(620.12 410.60) skewX(-7.5)" font-size="13.66" textLength="21.68" lengthAdjust="spacingAndGlyphs">GND</text>
<text transform="translate(387.12 381.30) skewX(-7.5)" font-size="14.24" textLength="11.28" lengthAdjust="spacingAndGlyphs">12</text>
<text transform="translate(387.12 401.00) skewX(-7.5)" font-size="14.24" textLength="11.28" lengthAdjust="spacingAndGlyphs">13</text>
<text transform="translate(47.70 459.50) skewX(-7.5)" font-size="15.99" textLength="23.11" lengthAdjust="spacingAndGlyphs">400</text>
<text transform="translate(117.70 410.00) skewX(-7.5)" font-size="15.99" textLength="26.07" lengthAdjust="spacingAndGlyphs">1500</text>
<text transform="translate(120.20 484.80) skewX(-7.5)" font-size="15.99" textLength="21.59" lengthAdjust="spacingAndGlyphs">900</text>
<text transform="translate(187.70 387.00) skewX(-7.5)" font-size="15.99" textLength="22.07" lengthAdjust="spacingAndGlyphs">400</text>
<text transform="translate(216.20 429.80) skewX(-7.5)" font-size="15.99" textLength="21.57" lengthAdjust="spacingAndGlyphs">900</text>
<text transform="translate(240.70 465.50) skewX(-7.5)" font-size="15.99" textLength="24.19" lengthAdjust="spacingAndGlyphs">1500</text>
<text transform="translate(206.70 512.60) skewX(-7.5)" font-size="15.99" textLength="22.55" lengthAdjust="spacingAndGlyphs">900</text>
<text transform="translate(215.70 551.80) skewX(-7.5)" font-size="15.99" textLength="26.11" lengthAdjust="spacingAndGlyphs">1000</text>
<text transform="translate(20.20 417.70) skewX(-7.5)" font-size="16.28" textLength="15.26" lengthAdjust="spacingAndGlyphs">X1</text>
<text transform="translate(237.20 357.00) skewX(-7.5)" font-size="15.99" textLength="15.78" lengthAdjust="spacingAndGlyphs">X3</text>
<text transform="translate(291.70 400.60) skewX(-7.5)" font-size="15.70" textLength="14.90" lengthAdjust="spacingAndGlyphs">X4</text>
<text transform="translate(343.70 436.00) skewX(-7.5)" font-size="15.70" textLength="17.04" lengthAdjust="spacingAndGlyphs">X2</text>
<text transform="translate(260.90 483.00) skewX(-7.5)" font-size="15.70" textLength="15.55" lengthAdjust="spacingAndGlyphs">X5</text>
<text transform="translate(286.20 522.60) skewX(-7.5)" font-size="16.28" textLength="15.55" lengthAdjust="spacingAndGlyphs">X6</text>
<text transform="translate(55.70 580.80) skewX(-7.5)" font-size="13.08" textLength="243.93" lengthAdjust="spacingAndGlyphs" style="stroke-width:0.00px;fill:#333;stroke:#333;">Рисунок 1 – Схематичное изображение кабеля.</text>
<text transform="translate(368.10 581.60) skewX(-7.5)" font-size="13.37" textLength="286.01" lengthAdjust="spacingAndGlyphs" style="stroke-width:0.00px;fill:#333;stroke:#333;">Рисунок 2 – Маркировка контактов разъемов X2–X6.</text>
<text transform="translate(33.70 626.40) skewX(-7.5)" font-size="18.46" textLength="24.88" lengthAdjust="spacingAndGlyphs" style="stroke-width:0.15px;">Поз.</text>
<text transform="translate(8.50 640.40) skewX(-7.5)" font-size="16.86" textLength="67.31" lengthAdjust="spacingAndGlyphs" style="stroke-width:0.15px;">обозначение</text>
<text transform="translate(233.20 635.40) skewX(-7.5)" font-size="18.17" textLength="93.58" lengthAdjust="spacingAndGlyphs" style="stroke-width:0.10px;">Наименование</text>
<text transform="translate(481.20 634.60) skewX(-7.5)" font-size="19.19" textLength="27.45" lengthAdjust="spacingAndGlyphs" style="stroke-width:0.10px;">Кол.</text>
<text transform="translate(561.20 637.00) skewX(-7.5)" font-size="15.99" textLength="72.50" lengthAdjust="spacingAndGlyphs" style="stroke-width:0.00px;">Примечание</text>
<text transform="translate(39.70 679.30) skewX(-7.5)" font-size="14.39" textLength="12.68" lengthAdjust="spacingAndGlyphs" style="stroke-width:0.10px;">X1</text>
<text transform="translate(86.70 680.50) skewX(-7.5)" font-size="15.41" textLength="221.08" lengthAdjust="spacingAndGlyphs" style="stroke-width:0.00px;">Вилка 2PTT40KПН16Ш23В ГЕ0.364.120 ТУ</text>
<path d="M493.40 677.90L497.30 668.50L494.10 670.70" fill="none" stroke="#2a2a2a" stroke-width="1.2" stroke-linecap="round" stroke-linejoin="round"/>
<text transform="translate(31.70 707.60) skewX(-7.5)" font-size="14.39" textLength="30.28" lengthAdjust="spacingAndGlyphs" style="stroke-width:0.10px;">X2–X6</text>
<text transform="translate(86.70 707.60) skewX(-7.5)" font-size="14.83" textLength="210.96" lengthAdjust="spacingAndGlyphs" style="stroke-width:0.00px;">Штекер питания 2.5x5.5x9мм (DJK–11B)</text>
<text transform="translate(491.70 707.00) skewX(-7.5)" font-size="14.97" textLength="6.21" lengthAdjust="spacingAndGlyphs" style="stroke-width:0.10px;">5</text>
<text transform="translate(451.70 532.60) skewX(-7.5)" font-size="13.81" textLength="8.28" lengthAdjust="spacingAndGlyphs">2</text>
<path d="M498.10 532.20L502.80 523.60L499.60 525.80" fill="none" stroke="#2a2a2a" stroke-width="1.2" stroke-linecap="round" stroke-linejoin="round"/>
</svg></body></html>
